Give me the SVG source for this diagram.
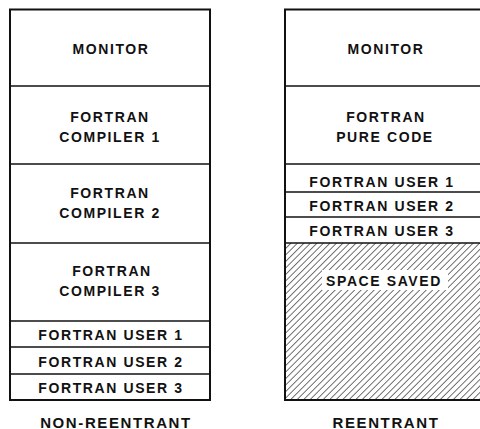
<svg xmlns="http://www.w3.org/2000/svg" width="480" height="429" viewBox="0 0 480 429">
  <style>
    .frame { fill: #ffffff; stroke: #111; stroke-width: 2; }
    .div { stroke: #111; stroke-width: 1.6; fill: none; }
    text { font-family: "Liberation Sans", Arial, sans-serif; font-weight: bold; font-size: 14px; letter-spacing: 1.6px; fill: #111; text-anchor: middle; }
    .cap { font-size: 15px; }
  </style>
  <defs>
    <pattern id="hatch" patternUnits="userSpaceOnUse" width="4.6" height="4.6" patternTransform="rotate(45)">
      <line x1="0" y1="0" x2="0" y2="4.6" stroke="#111" stroke-width="1.2"/>
    </pattern>
  </defs>
  <rect width="480" height="429" fill="#ffffff"/>

  <!-- Non-reentrant memory layout -->
  <g id="non-reentrant">
    <rect class="frame" x="10" y="9.5" width="200" height="390.5"/>
    <g id="nr-monitor">
      <text x="111" y="53.5" letter-spacing="2.6">MONITOR</text>
    </g>
    <line class="div" x1="10" y1="86" x2="210" y2="86"/>
    <g id="nr-compiler-1">
      <text x="110" y="121.7">FORTRAN</text>
      <text x="110" y="141.7">COMPILER 1</text>
    </g>
    <line class="div" x1="10" y1="164" x2="210" y2="164"/>
    <g id="nr-compiler-2">
      <text x="110" y="198">FORTRAN</text>
      <text x="110" y="218">COMPILER 2</text>
    </g>
    <line class="div" x1="10" y1="243" x2="210" y2="243"/>
    <g id="nr-compiler-3">
      <text x="112" y="276">FORTRAN</text>
      <text x="110" y="296">COMPILER 3</text>
    </g>
    <line class="div" x1="10" y1="321" x2="210" y2="321"/>
    <g id="nr-user-1">
      <text x="111" y="339.5" letter-spacing="1.3">FORTRAN USER 1</text>
    </g>
    <line class="div" x1="10" y1="347" x2="210" y2="347"/>
    <g id="nr-user-2">
      <text x="111" y="367" letter-spacing="1.3">FORTRAN USER 2</text>
    </g>
    <line class="div" x1="10" y1="374" x2="210" y2="374"/>
    <g id="nr-user-3">
      <text x="111" y="393" letter-spacing="1.3">FORTRAN USER 3</text>
    </g>
    <text class="cap" x="116" y="427.5" letter-spacing="2.2">NON-REENTRANT</text>
  </g>

  <!-- Reentrant memory layout -->
  <g id="reentrant">
    <rect class="frame" x="285" y="9.5" width="200" height="390.5"/>
    <g id="r-space-saved">
      <rect x="285" y="243" width="200" height="157" fill="url(#hatch)"/>
      <rect x="322" y="270" width="126" height="20" fill="#ffffff"/>
      <text x="384" y="286">SPACE SAVED</text>
    </g>
    <line x1="285" y1="9.5" x2="285" y2="400" stroke="#111" stroke-width="2"/>
    <line x1="285" y1="400" x2="485" y2="400" stroke="#111" stroke-width="2"/>
    <g id="r-monitor">
      <text x="386" y="53.5" letter-spacing="2.6">MONITOR</text>
    </g>
    <line class="div" x1="285" y1="86" x2="485" y2="86"/>
    <g id="r-pure-code">
      <text x="386" y="121.7">FORTRAN</text>
      <text x="385" y="141.7">PURE CODE</text>
    </g>
    <line class="div" x1="285" y1="164" x2="485" y2="164"/>
    <g id="r-user-1">
      <text x="382" y="186.5">FORTRAN USER 1</text>
    </g>
    <line class="div" x1="285" y1="192" x2="485" y2="192"/>
    <g id="r-user-2">
      <text x="382" y="210.5">FORTRAN USER 2</text>
    </g>
    <line class="div" x1="285" y1="217" x2="485" y2="217"/>
    <g id="r-user-3">
      <text x="382" y="236">FORTRAN USER 3</text>
    </g>
    <line class="div" x1="285" y1="243" x2="485" y2="243"/>
    <text class="cap" x="386" y="427.5" letter-spacing="1.5">REENTRANT</text>
  </g>
</svg>
